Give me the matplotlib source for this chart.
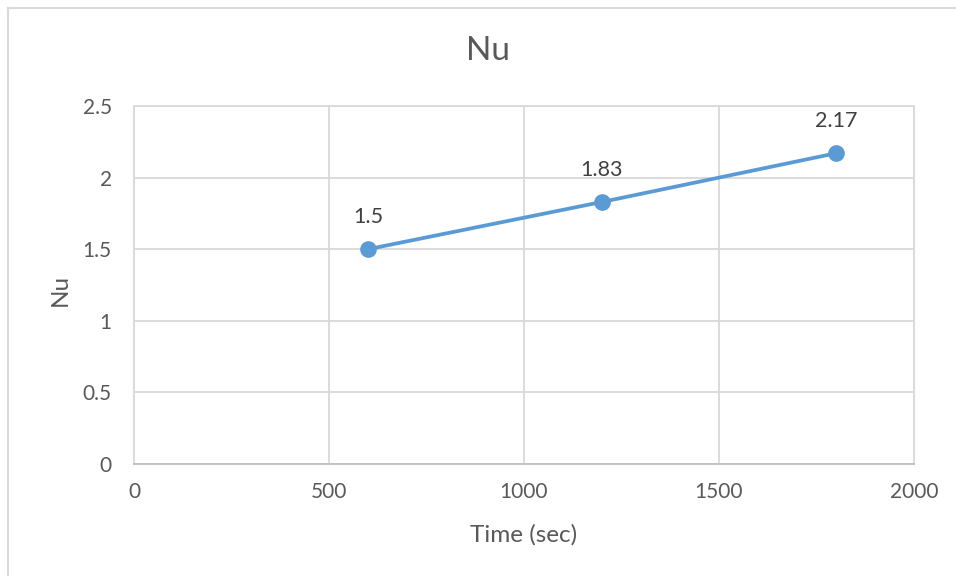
import matplotlib
matplotlib.use("Agg")
import matplotlib.pyplot as plt
from matplotlib.lines import Line2D

time_sec = [600, 1200, 1800]
nu_values = [1.5, 1.83, 2.17]
x_ticks = [0, 500, 1000, 1500, 2000]
y_ticks = [0, 0.5, 1, 1.5, 2, 2.5]
y_tick_labels = ["0", "0.5", "1", "1.5", "2", "2.5"]

plt.rcParams['font.family'] = ['Lato', 'DejaVu Sans']
text_color = "#595959"
grid_color = "#D9D9D9"
line_color = "#5B9BD5"

W, H = 956, 576
fig = plt.figure(figsize=(W / 100, H / 100), dpi=100)
ax = fig.add_axes([134 / W, 1 - 464 / H, (914 - 134) / W, (464 - 106) / H])

ax.plot(time_sec, nu_values, color=line_color, lw=2.7, marker="o",
        markersize=11, markerfacecolor=line_color, markeredgecolor=line_color,
        solid_capstyle="round", zorder=3)
for x, y in zip(time_sec, nu_values):
    ax.annotate(f"{y:g}", (x, y), xytext=(0, 23), textcoords="offset points",
                ha="center", va="center", fontsize=15.5, color="#404040")

ax.set_xlim(0, 2000)
ax.set_ylim(0, 2.5)
ax.set_xticks(x_ticks)
ax.set_yticks(y_ticks)
ax.set_yticklabels(y_tick_labels)
ax.grid(True, color=grid_color, lw=1.3)
ax.set_axisbelow(True)
for s in ax.spines.values():
    s.set_color(grid_color)
    s.set_linewidth(1.3)
ax.spines["bottom"].set_color("#BFBFBF")
ax.tick_params(length=0, labelsize=15, labelcolor=text_color)
ax.tick_params(axis="x", pad=13)
ax.tick_params(axis="y", pad=16)

ax.set_xlabel("Time (sec)", fontsize=17.5, color=text_color, va="center")
ax.set_ylabel("Nu", fontsize=17.5, color=text_color, va="center")
ax.xaxis.set_label_coords(524 / W, 1 - 535 / H, transform=fig.transFigure)
ax.yaxis.set_label_coords(60 / W, 1 - 290 / H, transform=fig.transFigure)
fig.text(488 / W, 1 - 51 / H, "Nu", ha="center", va="center",
         fontsize=24, color=text_color)

# chart frame (left and top edges)
fig.add_artist(Line2D([7.5 / W, 7.5 / W], [0, 1 - 7.5 / H],
                      transform=fig.transFigure, color="#D9D9D9", lw=1.5))
fig.add_artist(Line2D([7.5 / W, 1], [1 - 7.5 / H, 1 - 7.5 / H],
                      transform=fig.transFigure, color="#D9D9D9", lw=1.5))

fig.savefig("out.png", dpi=100)
